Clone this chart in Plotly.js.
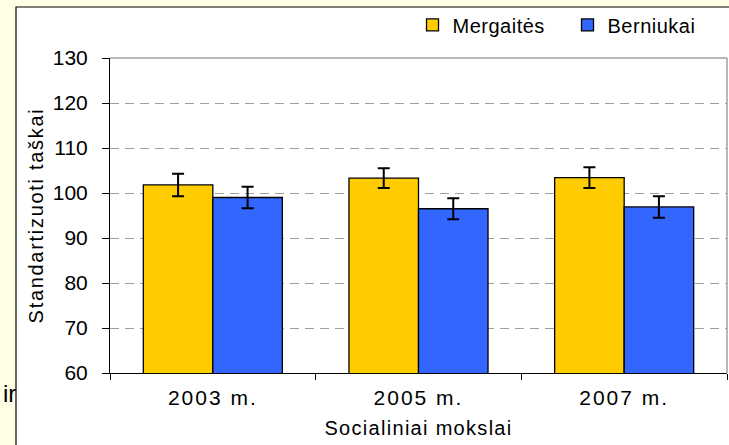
<!DOCTYPE html>
<html>
<head>
<meta charset="utf-8">
<script src="https://cdn.plot.ly/plotly-3.0.1.min.js"></script>
<style>
  html, body { margin: 0; padding: 0; background: #FFFFE6; }
  #chart { width: 729px; height: 445px; }
  .xtick text { letter-spacing: 2px; }
  .g-xtitle text { letter-spacing: 1.3px; }
  .g-ytitle text { letter-spacing: 1.7px; }
  .legendtext { letter-spacing: 0.5px; }
</style>
</head>
<body>
<div id="chart"></div>
<script>
const categories = ["2003 m.", "2005 m.", "2007 m."];
const girls = [101.8, 103.3, 103.4];
const girlsErr = [2.5, 2.2, 2.3];
const boys = [99.0, 96.5, 96.9];
const boysErr = [2.4, 2.35, 2.4];
const yTicks = [60, 70, 80, 90, 100, 110, 120, 130];

const FONT = "Liberation Sans, Arial, sans-serif";

const traces = [
  {
    type: "bar", name: "Mergaitės", x: categories, y: girls,
    marker: { color: "#FFCC00", line: { color: "#000000", width: 1.3 } },
    error_y: { type: "data", array: girlsErr, visible: true, color: "#000000", thickness: 2, width: 6 }
  },
  {
    type: "bar", name: "Berniukai", x: categories, y: boys,
    marker: { color: "#3366FF", line: { color: "#000000", width: 1.3 } },
    error_y: { type: "data", array: boysErr, visible: true, color: "#000000", thickness: 2, width: 6 }
  }
];

const layout = {
  width: 729, height: 445,
  margin: { l: 110, r: 2, t: 58, b: 72, pad: 0 },
  paper_bgcolor: "#FFFFE6",
  plot_bgcolor: "#FFFFFF",
  font: { family: FONT, size: 20, color: "#000000" },
  barmode: "group",
  bargap: 0.324,
  bargroupgap: 0,
  showlegend: true,
  legend: {
    orientation: "h", x: 0.4903, xanchor: "left", y: 1.105, yanchor: "middle",
    font: { family: FONT, size: 20, color: "#000" }, bgcolor: "rgba(0,0,0,0)",
    traceorder: "normal", entrywidth: 110, entrywidthmode: "pixels"
  },
  xaxis: {
    type: "category",
    showline: true, linecolor: "#000000", linewidth: 1,
    ticks: "outside", tickson: "boundaries", ticklen: 6, tickcolor: "#000", tickwidth: 1,
    tickfont: { family: FONT, size: 21 },
    ticklabelstandoff: 6,
    showgrid: false, zeroline: false,
    title: { text: "Socialiniai mokslai", font: { family: FONT, size: 20 }, standoff: 12 }
  },
  yaxis: {
    range: [60, 130], tickvals: yTicks, ticktext: yTicks.map(String),
    showline: true, linecolor: "#000000", linewidth: 1,
    ticks: "outside", ticklen: 7, tickcolor: "#000", tickwidth: 1,
    tickfont: { family: FONT, size: 21 },
    ticklabelstandoff: 10,
    showgrid: true, gridcolor: "#A0A0A0", gridwidth: 1, griddash: "9px,6px",
    zeroline: false,
    title: { text: "Standartizuoti taškai", font: { family: FONT, size: 20 }, standoff: 3 }
  },
  shapes: [
    { type: "rect", xref: "paper", yref: "paper", layer: "below",
      x0: (16 - 110) / 617, x1: 1.02, y0: -0.3, y1: (373 - 7) / 315,
      fillcolor: "#FFFFFF", line: { color: "#000000", width: 1.2 } },
    { type: "line", xref: "paper", yref: "paper", layer: "below",
      x0: 0, x1: 1, y0: 1, y1: 1, line: { color: "#A0A0A0", width: 1.5 } },
    { type: "line", xref: "paper", yref: "paper", layer: "below",
      x0: 1, x1: 1, y0: 0, y1: 1, line: { color: "#A0A0A0", width: 1.5 } }
  ],
  annotations: [
    { text: "ir", xref: "paper", yref: "paper", x: (17 - 110) / 617, y: (373 - 393) / 315,
      xanchor: "right", yanchor: "middle", showarrow: false,
      font: { family: FONT, size: 24, color: "#000" }, borderpad: 0 }
  ]
};

Plotly.newPlot("chart", traces, layout, { staticPlot: true, displayModeBar: false });
</script>
</body>
</html>
